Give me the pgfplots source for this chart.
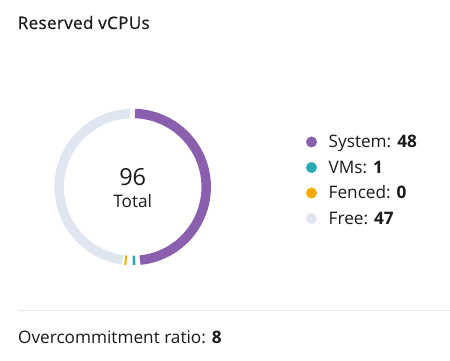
\documentclass[border=0pt]{standalone}
\usepackage{pgfplots}
\pgfplotsset{compat=1.18}
\usepackage{pgfplotstable}
\usepackage{fontspec}
\setmainfont{Open Sans}
\newfontfamily\semibold[FakeBold=0.6,LetterSpace=1.5]{Open Sans}
\definecolor{sysc}{HTML}{8A5FAE}
\definecolor{vmc}{HTML}{29A9B1}
\definecolor{fenc}{HTML}{F5AA00}
\definecolor{freec}{HTML}{DFE6F1}
\definecolor{sepc}{HTML}{E4E9F2}
\definecolor{txt}{HTML}{1A1A1A}
\newcommand{\fs}{\fontsize{17.2}{20}\selectfont}
\pgfdeclareplotmark{donutarc}{%
  \pgfsetlinewidth{9.5pt}\pgfsetbuttcap
  \pgfpathmoveto{\pgfpointpolar{\segA}{73.5pt}}%
  \pgfpatharc{\segA}{\segB}{73.5pt}%
  \pgfusepathqstroke}
% segments: value, start angle, end angle (degrees)
\pgfplotstableread{
x y value a b class
132.7 174 48 88.2 -84.3 sys
132.7 174 1 -88.0 -90.0 vm
132.7 174 0 -94.7 -96.2 fen
132.7 174 47 92.1 262.2 free
}\donut
\pgfplotstableread{
x y class
311.5 219 sys
311.5 193.5 vm
311.5 168 fen
311.5 142.5 free
}\legdots
\begin{document}
\begin{tikzpicture}
\useasboundingbox (0,0) rectangle (450pt,361pt);
\begin{axis}[
  width=450pt, height=361pt, scale only axis,
  xmin=0, xmax=450, ymin=0, ymax=361,
  hide axis, clip=false,
  at={(0,0)}, anchor=south west,
  scatter/classes={sys={sysc}, vm={vmc}, fen={fenc}, free={freec}},
]
\addplot[scatter, only marks, mark=donutarc, point meta=explicit symbolic,
  visualization depends on={\thisrow{a} \as \segA},
  visualization depends on={\thisrow{b} \as \segB}]
  table[x=x, y=y, meta=class] {\donut};
\addplot[scatter, only marks, mark=*, mark size=5.25pt, point meta=explicit symbolic]
  table[x=x, y=y, meta=class] {\legdots};
\addplot[color=sepc, line width=1pt] coordinates {(18,50) (450,50)};
\node[anchor=base west, font=\fontsize{17.2}{20}\semibold, text=txt, inner sep=0] at (axis cs:17.5,332) {Reserved vCPUs};
\node[anchor=base, font=\fontsize{23.5}{26}\selectfont, text=txt, inner sep=0] at (axis cs:132.7,175) {96};
\node[anchor=base, font=\fs, text=txt, inner sep=0] at (axis cs:132.7,153.5) {Total};
\node[anchor=base west, font=\fs, text=txt, inner sep=0] at (axis cs:328.5,213) {System: \textbf{48}};
\node[anchor=base west, font=\fs, text=txt, inner sep=0] at (axis cs:328.5,187.5) {VMs: \textbf{1}};
\node[anchor=base west, font=\fs, text=txt, inner sep=0] at (axis cs:328.5,162) {Fenced: \textbf{0}};
\node[anchor=base west, font=\fs, text=txt, inner sep=0] at (axis cs:328.5,136.5) {Free: \textbf{47}};
\node[anchor=base west, font=\fs, text=txt, inner sep=0] at (axis cs:18,17.5) {Overcommitment ratio: \textbf{8}};
\end{axis}
\end{tikzpicture}
\end{document}
